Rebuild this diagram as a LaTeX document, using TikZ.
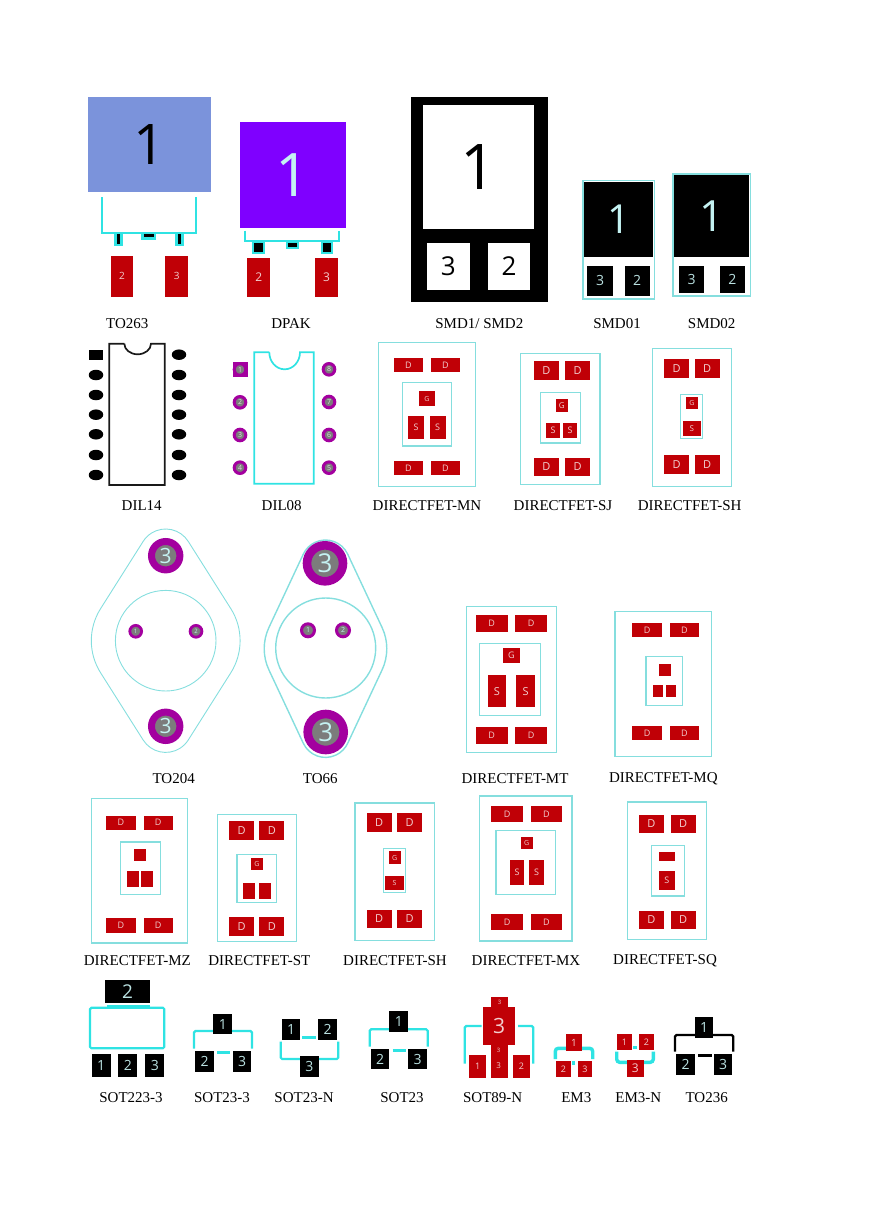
\documentclass[tikz,border=0pt]{standalone}
\usepackage{fontspec}
\setmainfont{Liberation Serif}
\setsansfont{Open Sans}
\usetikzlibrary{shapes.geometric}

\definecolor{padred}{HTML}{C00006}
\definecolor{padtext}{HTML}{F2CFCF}
\definecolor{silk}{HTML}{2FE3E3}
\definecolor{paleline}{HTML}{85DEDE}
\definecolor{viapurple}{HTML}{A3009F}
\definecolor{viagray}{HTML}{7C7C7C}
\definecolor{palecyan}{HTML}{C4F2F2}
\definecolor{tabblue}{HTML}{7B93DB}
\definecolor{tabviolet}{HTML}{7F00FF}

% pad from its two corners
\newcommand{\pad}[7][redpad]{
    \node[#1, minimum width={(#5-#3)*1pt}, minimum height={(#6-#4)*1pt}]
        (#2) at ({(#3+#5)/2},{(#4+#6)/2}) {#7};
}
% round pad with a hole
\newcommand{\via}[7][fs=6]{
    \node[viapad, #1, minimum size={(#5+#6)*1pt}, line width={(#5-#6)*1pt}]
        (#2) at (#3,#4) {#7};
}
% mounting outline: centre, hole offset, end radius, side offset, side radius, tangent angle
\newcommand{\flange}[7][thinline]{
    \draw[#1, shift={(#2)}, yscale=-1]
        ({#4*cos(#7)},{#3+#4*sin(#7)})
        arc[start angle=#7, end angle=180-#7, radius=#4]
        -- ({-#5-#6*cos(#7)},{#6*sin(#7)})
        arc[start angle=180-#7, end angle=180+#7, radius=#6]
        -- ({-#4*cos(#7)},{-#3-#4*sin(#7)})
        arc[start angle=180+#7, end angle=360-#7, radius=#4]
        -- ({#5+#6*cos(#7)},{-#6*sin(#7)})
        arc[start angle=-#7, end angle=#7, radius=#6]
        -- cycle;
}

\begin{document}
\begin{tikzpicture}[
        x=1pt,
        y=-1pt,
        fs/.style={font=\fontsize{#1}{#1}\selectfont\sffamily},
        bare/.style={inner sep=0pt, outer sep=0pt},
        redpad/.style={bare, fill=padred, text=padtext, fs=9},
        blackpad/.style={bare, fill=black, text=palecyan!85!gray, fs=14},
        whitepad/.style={bare, fill=white, text=black, fs=26},
        leadpad/.style={bare, fill=black, draw=silk, line width=2.4pt},
        viapad/.style={bare, circle, draw=viapurple, fill=viagray, text=palecyan},
        oval/.style={bare, ellipse, fill=black, minimum width=14.5pt, minimum height=10.5pt},
        pin/.style={bare, circle, draw=viapurple, fill=viagray,
            line width=3pt, minimum size=11.6pt, text=white!75!gray, fs=7},
        silkline/.style={draw=silk, line width=2.2pt, rounded corners=1.5pt},
        boxline/.style={draw=paleline, line width=1.4pt},
        thinline/.style={draw=paleline, line width=0.9pt},
        caption/.style={bare, font=\fontsize{15}{15}\selectfont\rmfamily}
    ]
    \useasboundingbox (0,0) rectangle (868,1228);

    % first row
    \pad[bare, fill=tabblue, text=black, fs=56]{to263big}{87.7}{96.7}{211}{191.7}{1}
    \pad[leadpad]{to263l}{115.3}{232.7}{121.3}{244.7}{}
    \pad[leadpad]{to263m}{142.3}{232.7}{155}{238.3}{}
    \pad[leadpad]{to263r}{176.3}{232.7}{182.3}{244.7}{}
    \draw[silkline, rounded corners=0pt] (101.7,197) |- (196,232.7) -- (196,197);
    \pad[redpad, fs=10]{to263p2}{110.7}{256}{133.3}{296.7}{2}
    \pad[redpad, fs=10]{to263p3}{165}{256}{188.3}{296.7}{3}
    \node[caption] (capto263) at (127.3,323.3) {TO263};

    \pad[bare, fill=tabviolet, text=palecyan, fs=60]{dpakbig}{240}{121.7}{345.7}{227.7}{1}
    \pad[leadpad]{dpakl}{253}{241.3}{263.7}{252.7}{}
    \pad[leadpad]{dpakm}{287}{241.3}{297.7}{248}{}
    \pad[leadpad]{dpakr}{321.7}{241.3}{331.7}{252.7}{}
    \draw[silkline, rounded corners=0pt] (245,230.7) |- (339.3,241.3) -- (339.3,230.7);
    \pad[redpad, fs=12]{dpakp2}{247.3}{258.3}{270.3}{296.7}{2}
    \pad[redpad, fs=12]{dpakp3}{315.3}{258.3}{337.7}{296.7}{3}
    \node[caption] (capdpak) at (291,323.3) {DPAK};

    \fill (411,97.3) rectangle (547.7,301.7);
    \pad[whitepad, fs=63]{smdbig}{423.3}{105}{534}{228.7}{1}
    \pad[whitepad]{smdp3}{427}{243}{469.7}{290}{3}
    \pad[whitepad]{smdp2}{487.7}{243}{530.3}{290}{2}
    \node[caption] (capsmd) at (479.3,323.3) {SMD1/ SMD2};

    \draw[boxline, line width=1.7pt] (582.9,180.5) rectangle (654.6,298.7);
    \pad[blackpad, text=palecyan, fs=40]{smda}{584}{182}{653.3}{257.3}{1}
    \pad[blackpad]{smdap3}{587.3}{266}{612.7}{295.7}{3}
    \pad[blackpad]{smdap2}{624.7}{266}{649.7}{295.7}{2}
    \node[caption] (capsmda) at (617,323.3) {SMD01};

    \draw[boxline, line width=1.7pt] (672.9,174.3) rectangle (750.5,296.1);
    \pad[blackpad, text=palecyan, fs=43]{smdb}{674}{175.3}{749.3}{257.3}{1}
    \pad[blackpad]{smdbp3}{679}{266}{704.3}{293.3}{3}
    \pad[blackpad]{smdbp2}{719.7}{266}{745}{293.3}{2}
    \node[caption] (capsmdb) at (711.7,323.3) {SMD02};

    % dil packages
    \draw[black!90, line width=1.7pt] (124.3,343.7) -- (109.3,343.7) |- (164.7,485) |- (151,343.7)
        arc[start angle=0, end angle=180, x radius=13.35, y radius=10.6];
    \node[bare, fill=black, minimum width=14pt, minimum height=10pt] (dilsq) at (96,354.7) {};
    \foreach \n/\ypos in {1/375,2/395,3/414.7,4/434.3,5/455,6/475}{
        \node[oval] (dill\n) at (96,\ypos) {};
    }
    \foreach \n/\ypos in {0/354.7,1/375,2/395,3/414.7,4/434.3,5/455,6/475}{
        \node[oval] (dilr\n) at (179,\ypos) {};
    }
    \node[caption] (capdila) at (141.7,506) {DIL14};

    \draw[silkline, rounded corners=0pt, line width=1.7pt] (269.3,352.3) -- (254.3,352.3) |- (313.7,483.7) |- (300,352.3)
        arc[start angle=0, end angle=180, x radius=15.35, y radius=17];
    \node[bare, fill=viapurple, minimum size=15pt] (dipsq) at (240,369.5) {};
    \node[pin] (dip1) at (240,369.5) {1};
    \foreach \n/\ypos in {2/402.3,3/435,4/467.7}{
        \node[pin] (dip\n) at (240,\ypos) {\n};
    }
    \foreach \n/\ypos in {8/369.3,7/402,6/435,5/467.7}{
        \node[pin] (dip\n) at (329,\ypos) {\n};
    }
    \node[caption] (capdilb) at (281.7,506) {DIL08};

    % directfet row one
    \draw[boxline] (378.7,342.3) rectangle (475.3,486.7);
    \draw[boxline] (402.7,382.3) rectangle (451.3,446);
    \pad{mnd1}{393.7}{358}{423.3}{371.7}{D}
    \pad{mnd2}{430.7}{358}{460}{371.7}{D}
    \pad{mnd3}{393.7}{461}{423.3}{474.7}{D}
    \pad{mnd4}{430.7}{461}{460}{474.7}{D}
    \pad[redpad, fs=7]{mng}{418.7}{391.3}{435.3}{406.3}{G}
    \pad{mns1}{408}{416}{424.3}{439}{S}
    \pad{mns2}{429.7}{416}{445.7}{439}{S}
    \node[caption] (capmn) at (427,506) {DIRECTFET-MN};

    \draw[boxline] (520.7,353.7) rectangle (600,484.3);
    \draw[boxline] (540.7,392.3) rectangle (580.3,443);
    \pad[redpad, fs=11]{sjd1}{533.7}{361.3}{559}{380}{D}
    \pad[redpad, fs=11]{sjd2}{565}{361.3}{590.3}{380}{D}
    \pad[redpad, fs=11]{sjd3}{533.7}{457.7}{559}{476.3}{D}
    \pad[redpad, fs=11]{sjd4}{565}{457.7}{590.3}{476.3}{D}
    \pad[redpad, fs=8]{sjg}{555.7}{399.3}{567.7}{411.7}{G}
    \pad{sjs1}{546}{423.3}{560}{437.7}{S}
    \pad{sjs2}{563}{423.3}{577.3}{437.7}{S}
    \node[caption] (capsj) at (563,506) {DIRECTFET-SJ};

    \draw[boxline] (652.3,348.7) rectangle (731.3,486.7);
    \draw[boxline] (680.7,394.3) rectangle (702.7,438.3);
    \pad[redpad, fs=11]{shd1}{664}{359}{689.3}{377.7}{D}
    \pad[redpad, fs=11]{shd2}{694.7}{359}{719.7}{377.7}{D}
    \pad[redpad, fs=11]{shd3}{664}{455.3}{689.3}{474}{D}
    \pad[redpad, fs=11]{shd4}{694.7}{455.3}{719.7}{474}{D}
    \pad[redpad, fs=7]{shg}{686}{397}{698}{409.3}{G}
    \pad[redpad, fs=8]{shs}{682.7}{421.3}{701}{435.7}{S}
    \node[caption] (capsh) at (689.7,506) {DIRECTFET-SH};

    % metal cans
    \flange{165.7,640.7}{85}{26.7}{14.4}{60}{32.3}
    \draw[thinline] (165.7,640.7) circle[radius=50.3];
    \via[fs=21]{toatop}{165.7}{555.7}{17.7}{10.7}{3}
    \via[fs=21]{toabot}{165.7}{726.3}{17.7}{10.7}{3}
    \via{toap1}{135.7}{631.3}{7.3}{4.5}{1}
    \via{toap2}{196}{631.3}{7.3}{4.5}{2}
    \node[caption] (capto204) at (173.7,778.3) {TO204};

    \flange[boxline]{325.5,648.7}{84.2}{24.5}{11.3}{50}{25.1}
    \draw[boxline] (325.7,648) circle[radius=50];
    \via[fs=26]{tobtop}{325}{563.3}{22.3}{13.7}{3}
    \via[fs=26]{tobbot}{325.7}{732}{22.3}{13.7}{3}
    \via[fs=7]{tobp1}{308}{630.3}{8}{5}{1}
    \via[fs=7]{tobp2}{343}{630.3}{8}{5}{2}
    \node[caption] (capto66) at (320.3,778.3) {TO66};

    \draw[boxline] (466.3,606.3) rectangle (556.3,752.3);
    \draw[boxline] (479.3,643.3) rectangle (540.7,715.3);
    \pad{mtd1}{475.7}{615.3}{507.7}{631.7}{D}
    \pad{mtd2}{515.3}{615.3}{547}{631.7}{D}
    \pad{mtd3}{475.7}{727.3}{507.7}{743.7}{D}
    \pad{mtd4}{515.3}{727.3}{547}{743.7}{D}
    \pad{mtg}{503}{648.3}{519.7}{662.7}{G}
    \pad[redpad, fs=11]{mts1}{487.7}{675.3}{506.3}{707}{S}
    \pad[redpad, fs=11]{mts2}{516.3}{675.3}{535}{707}{S}
    \node[caption] (capmt) at (515,779) {DIRECTFET-MT};

    \draw[boxline] (615,611.3) rectangle (711.7,756.3);
    \draw[boxline] (646,656.3) rectangle (682.3,705.7);
    \pad{mqd1}{632.3}{623.3}{662}{637.3}{D}
    \pad{mqd2}{669.7}{623.3}{699.3}{637.3}{D}
    \pad{mqd3}{632.3}{725.7}{662}{740}{D}
    \pad{mqd4}{669.7}{725.7}{699.3}{740}{D}
    \pad{mqg}{658.7}{663.7}{670.7}{675.7}{}
    \pad{mqs1}{653.3}{685.3}{663}{697.3}{}
    \pad{mqs2}{666.3}{685.3}{676}{697.3}{}
    \node[caption] (capmq) at (663.3,779) {DIRECTFET-MQ};

    % directfet row two
    \draw[boxline] (91.7,798.7) rectangle (187.7,943);
    \draw[boxline] (120.7,842) rectangle (160.7,894.7);
    \pad{mzd1}{106.3}{815.7}{135.7}{829.7}{D}
    \pad{mzd2}{143.7}{815.7}{172.7}{829.7}{D}
    \pad{mzd3}{106.3}{918.3}{135.7}{932.7}{D}
    \pad{mzd4}{143.7}{918.3}{172.7}{932.7}{D}
    \pad{mzg}{133.7}{849.3}{145.7}{861.3}{}
    \pad{mzs1}{127.3}{871.3}{139}{887.3}{}
    \pad{mzs2}{141.3}{871.3}{153.3}{887.3}{}
    \node[caption] (capmz) at (137.3,961) {DIRECTFET-MZ};

    \draw[boxline] (217.3,814.7) rectangle (296.3,941.7);
    \draw[boxline] (237,854.3) rectangle (276.7,902.7);
    \pad[redpad, fs=11]{std1}{229}{821}{254.3}{839.7}{D}
    \pad[redpad, fs=11]{std2}{259.3}{821}{284.3}{839.7}{D}
    \pad[redpad, fs=11]{std3}{229}{917.3}{254.3}{936}{D}
    \pad[redpad, fs=11]{std4}{259.3}{917.3}{284.3}{936}{D}
    \pad[redpad, fs=7]{stg}{251}{858.3}{263}{870.3}{G}
    \pad{sts1}{243.3}{882.7}{255.3}{898.7}{}
    \pad{sts2}{258.7}{882.7}{270.7}{898.7}{}
    \node[caption] (capst) at (259.3,961) {DIRECTFET-ST};

    \draw[boxline] (355,803) rectangle (434.3,940.7);
    \draw[boxline] (383.3,848.7) rectangle (405.7,892.7);
    \pad[redpad, fs=11]{sbd1}{366.7}{813.3}{391.7}{832}{D}
    \pad[redpad, fs=11]{sbd2}{397.3}{813.3}{422}{832}{D}
    \pad[redpad, fs=11]{sbd3}{366.7}{909.7}{391.7}{928.3}{D}
    \pad[redpad, fs=11]{sbd4}{397.3}{909.7}{422}{928.3}{D}
    \pad[redpad, fs=7]{sbg}{388.7}{851.3}{400.7}{863.7}{G}
    \pad[redpad, fs=7]{sbs}{385.3}{875.7}{403.7}{890.3}{S}
    \node[caption] (capsb) at (395,961) {DIRECTFET-SH};

    \draw[boxline] (479.3,796) rectangle (572,941);
    \draw[boxline] (496,830.3) rectangle (555.3,894.7);
    \pad{mxd1}{491.3}{806}{523}{822.3}{D}
    \pad{mxd2}{530.7}{806}{562.3}{822.3}{D}
    \pad{mxd3}{491.3}{914.3}{523}{930.3}{D}
    \pad{mxd4}{530.7}{914.3}{562.3}{930.3}{D}
    \pad[redpad, fs=7]{mxg}{520.7}{837.3}{532.7}{849.3}{G}
    \pad{mxs1}{510}{859.7}{524}{884.7}{S}
    \pad{mxs2}{529.3}{859.7}{543.7}{884.7}{S}
    \node[caption] (capmx) at (526,961) {DIRECTFET-MX};

    \draw[boxline] (627.3,802) rectangle (706.7,939.7);
    \draw[boxline] (651.3,845.3) rectangle (684.3,896);
    \pad[redpad, fs=11]{sqd1}{638.7}{814.7}{664}{833.3}{D}
    \pad[redpad, fs=11]{sqd2}{670.7}{814.7}{695.7}{833.3}{D}
    \pad[redpad, fs=11]{sqd3}{638.7}{910.7}{664}{929.3}{D}
    \pad[redpad, fs=11]{sqd4}{670.7}{910.7}{695.7}{929.3}{D}
    \pad{sqg}{658.7}{851.7}{675}{861.3}{}
    \pad{sqs}{658.7}{871.3}{675}{890}{S}
    \node[caption] (capsq) at (665,961) {DIRECTFET-SQ};

    % small outlines
    \draw[silkline] (90,1007.7) rectangle (164.3,1048.3);
    \draw[silkline, line width=3pt] (106.7,1006) -- (150,1006);
    \pad[blackpad, fs=19]{soapad}{105.3}{979.7}{150}{1002.7}{2}
    \pad[blackpad]{soap1}{91.7}{1054.3}{110.7}{1076.7}{1}
    \pad[blackpad]{soap2}{118.3}{1054.3}{137.3}{1076.7}{2}
    \pad[blackpad]{soap3}{145.3}{1054.3}{164.3}{1076.7}{3}
    \node[caption] (capsoa) at (131,1097.7) {SOT223-3};

    \draw[silkline] (194,1048.7) |- (252,1031) -- (252,1048.7);
    \draw[silkline, line width=3pt] (217.3,1052.3) -- (230,1052.3);
    \pad[blackpad]{sobp1}{213.3}{1013.7}{232.3}{1034.3}{1}
    \pad[blackpad]{sobp2}{195}{1050.7}{214}{1071.7}{2}
    \pad[blackpad]{sobp3}{232.7}{1050.7}{251.3}{1071.7}{3}
    \node[caption] (capsob) at (222,1097.7) {SOT23-3};

    \draw[silkline] (280.7,1041.7) |- (338.3,1059) -- (338.3,1041.7);
    \draw[silkline, line width=3pt] (302,1037.7) -- (315.7,1037.7);
    \pad[blackpad]{socp1}{281.7}{1019.3}{300.3}{1040}{1}
    \pad[blackpad]{socp2}{318.3}{1019.3}{337}{1040}{2}
    \pad[blackpad]{socp3}{300}{1056.3}{318.7}{1077}{3}
    \node[caption] (capsoc) at (304,1097.7) {SOT23-N};

    \draw[silkline] (369.7,1046.7) |- (427.7,1029.3) -- (427.7,1046.7);
    \draw[silkline, line width=3pt] (392.7,1050.3) -- (405.7,1050.3);
    \pad[blackpad]{sodp1}{389.3}{1011.3}{408.3}{1032}{1}
    \pad[blackpad]{sodp2}{370.7}{1048.7}{389.3}{1069.3}{2}
    \pad[blackpad]{sodp3}{408.3}{1048.7}{427}{1069.3}{3}
    \node[caption] (capsod) at (402,1097.7) {SOT23};

    \draw[silkline] (464.7,1063.7) |- (481.7,1026);
    \draw[silkline] (533.3,1063.7) |- (518,1026);
    \pad[redpad]{sopstem}{491.3}{1045}{508}{1078}{}
    \pad[redpad, fs=6]{soptop}{491.3}{997.3}{508}{1007}{3}
    \pad[redpad, fs=21]{sopmain}{483.3}{1007}{514.7}{1045}{3}
    \pad[redpad]{sopp1}{469.3}{1055.3}{486}{1078}{1}
    \pad[redpad]{sopp2}{513}{1055.3}{529.7}{1078}{2}
    \node[bare, fs=6, text=padtext] (sopa) at (498.7,1050) {3};
    \node[bare, fs=8, text=padtext] (sopb) at (498.7,1066) {3};
    \node[caption] (capsop) at (492.7,1097.3) {SOT89-N};

    \draw[silkline, line width=3.4pt, rounded corners=3pt] (555.3,1059) |- (592.7,1048.3) -- (592.7,1059);
    \draw[silkline, line width=3.4pt] (571.5,1063) -- (575,1063);
    \pad[redpad, fs=10]{emap1}{565.7}{1034.3}{582.3}{1050.7}{1}
    \pad[redpad, fs=9]{emap2}{556}{1061}{570.7}{1076.7}{2}
    \pad[redpad, fs=9]{emap3}{578}{1061}{592}{1076.7}{3}
    \node[caption] (capema) at (576.3,1097.3) {EM3};

    \draw[silkline, line width=3.4pt, rounded corners=3pt] (616.7,1051.7) |- (653.3,1062.3) -- (653.3,1051.7);
    \draw[silkline, line width=3.4pt] (633.3,1047.3) -- (636.7,1047.3);
    \pad[redpad]{embp1}{617.3}{1034.3}{631.7}{1050}{1}
    \pad[redpad]{embp2}{639.3}{1034.3}{653.7}{1050}{2}
    \pad[redpad, fs=12]{embp3}{627}{1060.3}{643.7}{1076.7}{3}
    \node[caption] (capemb) at (638.3,1097.3) {EM3-N};

    \draw[silkline, draw=black] (675,1051.7) |- (733.3,1035) -- (733.3,1051.7);
    \draw[silkline, draw=black, line width=2.6pt] (698.3,1055.7) -- (711.7,1055.7);
    \pad[blackpad]{tofp1}{694.7}{1017.3}{713.3}{1037.7}{1}
    \pad[blackpad]{tofp2}{676}{1054}{695}{1074.7}{2}
    \pad[blackpad]{tofp3}{713.7}{1054}{732.3}{1074.7}{3}
    \node[caption] (capto236) at (706.7,1097.3) {TO236};
\end{tikzpicture}
\end{document}
